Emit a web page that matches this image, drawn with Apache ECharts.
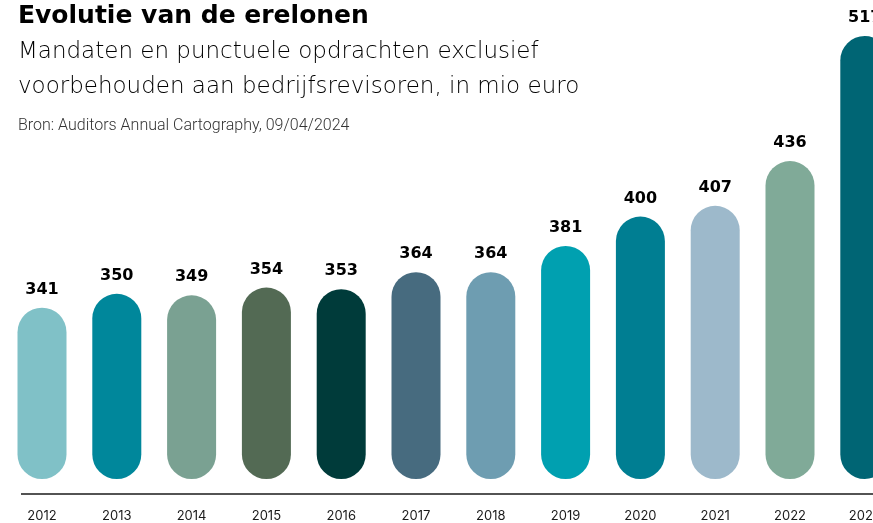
<!DOCTYPE html>
<html>
<head>
<meta charset="utf-8">
<script src="https://cdn.jsdelivr.net/npm/echarts@6/dist/echarts.min.js"></script>
<style>
html,body{margin:0;padding:0;background:#fff;}
#chart{width:873px;height:523px;}
</style>
</head>
<body>
<div id="chart"></div>
<script>
const years = ['2012','2013','2014','2015','2016','2017','2018','2019','2020','2021','2022','2023'];
const fees = [341, 350, 349, 354, 353, 364, 364, 381, 400, 407, 436, 517];
const barColors = ['#80c1c7','#00879b','#7aa192','#536a54','#003b3a','#476b7f','#6e9db1','#00a0b0','#007e92','#9db9cb','#80aa98','#006574'];
const titleText = 'Evolutie van de erelonen';
const subtitleLines = ['Mandaten en punctuele opdrachten exclusief', 'voorbehouden aan bedrijfsrevisoren, in mio euro'];
const sourceText = 'Bron: Auditors Annual Cartography, 09/04/2024';

const chart = echarts.init(document.getElementById('chart'));
chart.setOption({
  animation: false,
  backgroundColor: '#ffffff',
  grid: { left: 4.6, top: 36, width: 897.6, height: 443, containLabel: false, outerBoundsMode: 'none' },
  xAxis: {
    type: 'category',
    data: years,
    offset: 15,
    axisLine: { show: false },
    axisTick: { show: false },
    axisLabel: { color: '#1a1a1a', fontSize: 13, fontFamily: 'Inter', margin: 16 }
  },
  yAxis: { type: 'value', min: 230, max: 517, show: false, splitLine: { show: false } },
  graphic: [
    { type: 'line', shape: { x1: 21, y1: 494, x2: 873, y2: 494 }, style: { stroke: '#1a1a1a', lineWidth: 1.5 } },
    { type: 'text', left: 18, top: 4, style: { text: titleText, fontSize: 25, fontWeight: 'bold', fontFamily: 'DejaVu Sans', fill: '#000' } },
    { type: 'text', left: 18, top: 41, style: { text: subtitleLines[0], fontSize: 23, fontWeight: 200, fontFamily: '"DejaVu Sans ExtraLight", "DejaVu Sans"', fill: '#000' } },
    { type: 'text', left: 18, top: 76, style: { text: subtitleLines[1], fontSize: 23, fontWeight: 200, fontFamily: '"DejaVu Sans ExtraLight", "DejaVu Sans"', fill: '#000' } },
    { type: 'text', left: 18, top: 118, style: { text: sourceText, fontSize: 16, fontWeight: 300, fontFamily: 'Roboto', fill: '#333' } }
  ],
  series: [{
    type: 'bar',
    barWidth: 49,
    data: fees.map((v, i) => ({ value: v, itemStyle: { color: barColors[i] } })),
    itemStyle: { borderRadius: 24.5 },
    label: { show: true, position: 'top', distance: 10, color: '#000', fontSize: 16, fontWeight: 'bold', fontFamily: 'DejaVu Sans' }
  }]
});
</script>
</body>
</html>
